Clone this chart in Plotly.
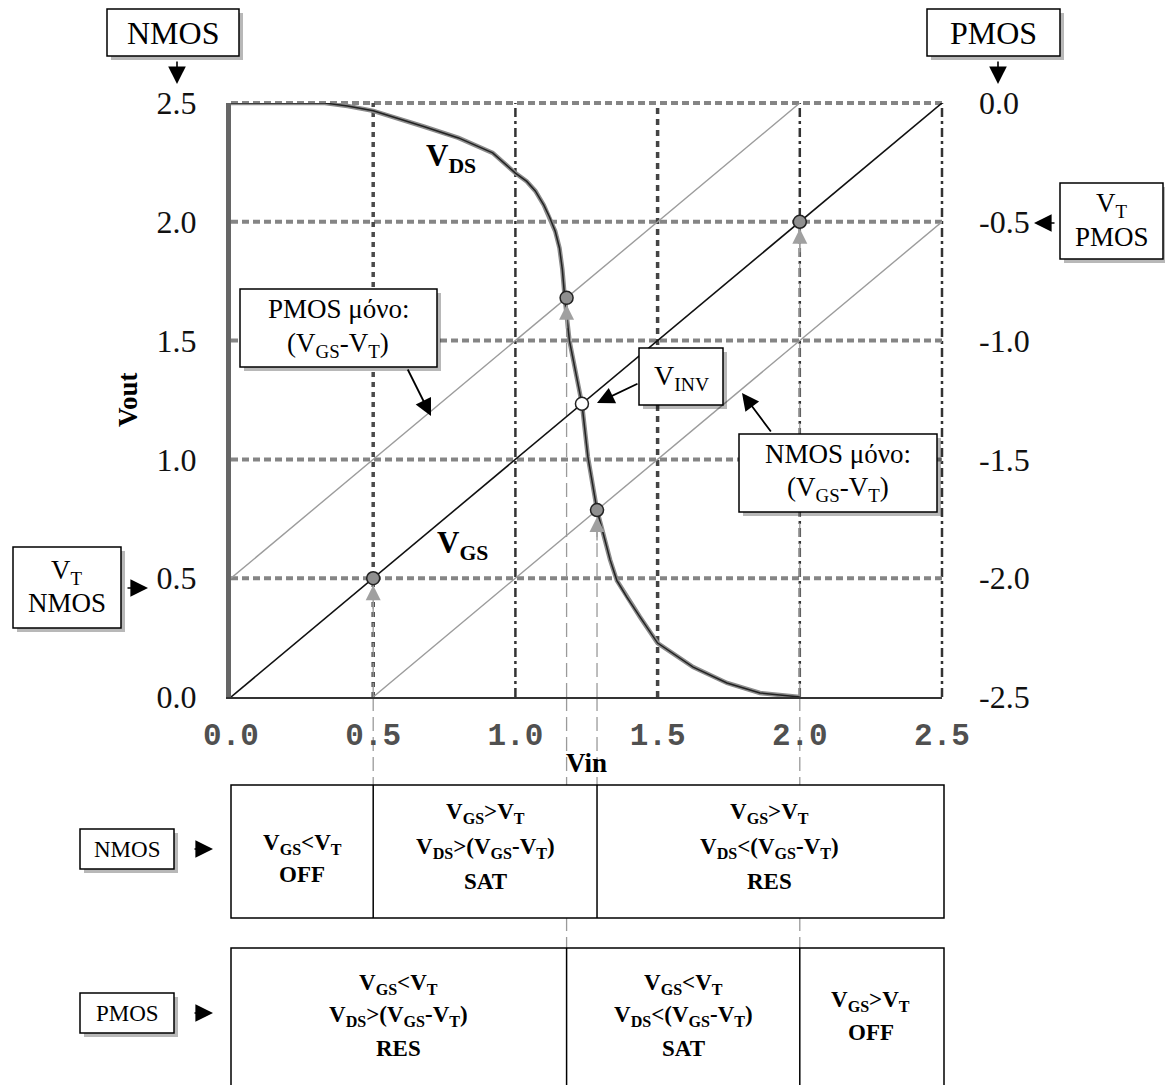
import plotly.graph_objects as go

W, H = 1165, 1085

# ---------------- data ----------------
vin_curve = [0.0, 0.33, 0.41, 0.50, 0.68, 0.80, 0.92, 1.00, 1.04, 1.07, 1.10, 1.12, 1.14, 1.155,
             1.165, 1.174, 1.19, 1.234, 1.255, 1.287, 1.315, 1.333, 1.357, 1.392, 1.438, 1.50,
             1.625, 1.744, 1.86, 2.0]
vout_curve = [2.5, 2.5, 2.487, 2.467, 2.40, 2.353, 2.29, 2.205, 2.17, 2.13, 2.07, 2.02, 1.96,
              1.89, 1.80, 1.674, 1.50, 1.234, 1.01, 0.787, 0.66, 0.577, 0.49, 0.42, 0.337,
              0.227, 0.126, 0.059, 0.017, 0.0]

vgs_x = [0.0, 2.5]
vgs_y = [0.0, 2.5]
pmos_only_x = [0.0, 2.0]
pmos_only_y = [0.5, 2.5]
nmos_only_x = [0.5, 2.5]
nmos_only_y = [0.0, 2.0]

transition_x = [0.5, 1.18, 1.287, 2.0]
transition_y = [0.5, 1.68, 0.787, 2.0]
vinv_x = [1.234]
vinv_y = [1.234]

grid_vals = [0.5, 1.0, 1.5, 2.0]
tick_vals = [0.0, 0.5, 1.0, 1.5, 2.0, 2.5]
tick_text = ["0.0", "0.5", "1.0", "1.5", "2.0", "2.5"]
pmos_tick_vals = [-2.5, -2.0, -1.5, -1.0, -0.5, 0.0]
pmos_tick_text = ["-2.5", "-2.0", "-1.5", "-1.0", "-0.5", "0.0"]

nmos_bounds = [0.0, 0.5, 1.287, 2.5]
pmos_bounds = [0.0, 1.18, 2.0, 2.5]
nmos_regions = [
    ["V<sub>GS</sub>&lt;V<sub>T</sub>", "OFF"],
    ["V<sub>GS</sub>&gt;V<sub>T</sub>", "V<sub>DS</sub>&gt;(V<sub>GS</sub>-V<sub>T</sub>)", "SAT"],
    ["V<sub>GS</sub>&gt;V<sub>T</sub>", "V<sub>DS</sub>&lt;(V<sub>GS</sub>-V<sub>T</sub>)", "RES"],
]
pmos_regions = [
    ["V<sub>GS</sub>&lt;V<sub>T</sub>", "V<sub>DS</sub>&gt;(V<sub>GS</sub>-V<sub>T</sub>)", "RES"],
    ["V<sub>GS</sub>&lt;V<sub>T</sub>", "V<sub>DS</sub>&lt;(V<sub>GS</sub>-V<sub>T</sub>)", "SAT"],
    ["V<sub>GS</sub>&gt;V<sub>T</sub>", "OFF"],
]

# ---------------- layout geometry (pixels) ----------------
PLOT_L, PLOT_R, PLOT_T, PLOT_B = 231, 942, 103, 697
X_DOM = [PLOT_L / W, PLOT_R / W]
Y_DOM = [1 - PLOT_B / H, 1 - PLOT_T / H]
SERIF = "Liberation Serif"
MONO = "Liberation Mono"


def PX(x):
    return x / W


def PY(y):
    return 1 - y / H


shapes = []
annotations = []


def box(x0, y0, x1, y1, shadow=True, lw=1.5):
    if shadow:
        shapes.append(dict(type="rect", xref="paper", yref="paper",
                           x0=PX(x0 + 4), x1=PX(x1 + 4), y0=PY(y0 + 4), y1=PY(y1 + 4),
                           fillcolor="rgba(0,0,0,0.28)", line=dict(width=0), layer="above"))
    shapes.append(dict(type="rect", xref="paper", yref="paper",
                       x0=PX(x0), x1=PX(x1), y0=PY(y0), y1=PY(y1),
                       fillcolor="white", line=dict(color="black", width=lw), layer="above"))


def text(x, y, s, size, bold=False, xref="paper", family=SERIF, color="#000", angle=0):
    if bold:
        s = "<b>" + s + "</b>"
    annotations.append(dict(x=x if xref != "paper" else PX(x), y=PY(y), xref=xref, yref="paper",
                            text=s, showarrow=False, xanchor="center", yanchor="middle",
                            textangle=angle, font=dict(family=family, size=size, color=color)))


def arrow(tipx, tipy, tailx, taily, size=2.2, width=1.6):
    annotations.append(dict(x=PX(tipx), y=PY(tipy), xref="paper", yref="paper",
                            ax=tailx - tipx, ay=taily - tipy, axref="pixel", ayref="pixel",
                            text="", showarrow=True, arrowhead=2, arrowsize=size,
                            arrowwidth=width, arrowcolor="black"))


# ---------------- grid (drawn through the axes) ----------------
for v in grid_vals:
    shapes.append(dict(type="line", xref="x", yref="y", x0=0, x1=2.5, y0=v, y1=v,
                       line=dict(color="#858585", width=4, dash="7px,4px"), layer="below"))
shapes.append(dict(type="line", xref="x", yref="paper", x0=0, x1=2.5, y0=Y_DOM[1], y1=Y_DOM[1],
                   line=dict(color="#858585", width=4, dash="7px,4px"), layer="below"))
vgrid_styles = [
    dict(color="#4a4a4a", width=3.5, dash="5px,5px"),
    dict(color="#333333", width=2.5, dash="9px,4px,3px,4px"),
    dict(color="#444444", width=3.5, dash="6px,5px"),
    dict(color="#333333", width=2.5, dash="9px,4px,3px,4px"),
]
for v, st in zip(grid_vals, vgrid_styles):
    shapes.append(dict(type="line", xref="x", yref="y", x0=v, x1=v, y0=0, y1=2.5,
                       line=st, layer="below"))
shapes.append(dict(type="line", xref="paper", yref="y", x0=X_DOM[1], x1=X_DOM[1], y0=0, y1=2.5,
                   line=dict(color="#333333", width=2.5, dash="9px,4px,3px,4px"), layer="below"))

guide_bottom_px = [785, 948, 785, 948]
guide_style = dict(color="#9a9a9a", width=1.3, dash="14px,6px")
for gx, gy, gb in zip(transition_x, transition_y, guide_bottom_px):
    shapes.append(dict(type="line", xref="x", yref="y", x0=gx, x1=gx, y0=0, y1=gy,
                       line=guide_style, layer="below"))
    shapes.append(dict(type="line", xref="x", yref="paper", x0=gx, x1=gx, y0=Y_DOM[0], y1=PY(gb),
                       line=guide_style, layer="below"))

# ---------------- region tables ----------------
NM_T, NM_B = 785, 918
PM_T, PM_B = 948, 1092
box(PLOT_L, NM_T, PLOT_R + 2, NM_B, shadow=False)
box(PLOT_L, PM_T, PLOT_R + 2, PM_B, shadow=False)
for b in nmos_bounds[1:-1]:
    shapes.append(dict(type="line", xref="x", yref="paper", x0=b, x1=b, y0=PY(NM_T), y1=PY(NM_B),
                       line=dict(color="black", width=1.5), layer="above"))
for b in pmos_bounds[1:-1]:
    shapes.append(dict(type="line", xref="x", yref="paper", x0=b, x1=b, y0=PY(PM_T), y1=PY(PM_B),
                       line=dict(color="black", width=1.5), layer="above"))

TABLE_FS = 23
line_y3_n = [813, 848, 881]
line_y2_n = [844, 874]
line_y3_p = [984, 1016, 1048]
line_y2_p = [1001, 1032]
for i, lines in enumerate(nmos_regions):
    cx = (nmos_bounds[i] + nmos_bounds[i + 1]) / 2
    ys = line_y3_n if len(lines) == 3 else line_y2_n
    for s, yy in zip(lines, ys):
        text(cx, yy, s, TABLE_FS, bold=True, xref="x")
for i, lines in enumerate(pmos_regions):
    cx = (pmos_bounds[i] + pmos_bounds[i + 1]) / 2
    ys = line_y3_p if len(lines) == 3 else line_y2_p
    for s, yy in zip(lines, ys):
        text(cx, yy, s, TABLE_FS, bold=True, xref="x")

box(80, 829, 174, 869)
text(127, 849, "NMOS", 23)
arrow(213, 849, 193, 849)
box(80, 993, 174, 1033)
text(127, 1013, "PMOS", 23)
arrow(213, 1013, 193, 1013)

# ---------------- top / side labels ----------------
box(107, 9, 239, 56)
text(173, 33, "NMOS", 32)
arrow(177, 84, 177, 60)
box(927, 9, 1060, 56)
text(993, 33, "PMOS", 32)
arrow(998, 84, 998, 60)

box(1060, 183, 1163, 259)
text(1112, 205, "V<sub>T</sub>", 27)
text(1112, 237, "PMOS", 27)
arrow(1034, 223, 1056, 223)

box(13, 547, 121, 628)
text(67, 572, "V<sub>T</sub>", 27)
text(67, 603, "NMOS", 27)
arrow(148, 588, 126, 588)

# annotation boxes in the plot
box(240, 289, 437, 367)
text(338, 309, "PMOS μόνο:", 27)
text(338, 345, "(V<sub>GS</sub>-V<sub>T</sub>)", 27)
arrow(431, 416, 407, 368, size=1.9, width=1.8)

box(639, 348, 723, 405)
text(681, 377, "V<sub>INV</sub>", 28)
arrow(597, 403, 639, 383, size=1.9, width=1.8)

box(739, 434, 937, 512)
text(838, 454, "NMOS μόνο:", 27)
text(838, 489, "(V<sub>GS</sub>-V<sub>T</sub>)", 27)
arrow(742, 393, 772, 433, size=1.9, width=1.8)

# curve labels and axis titles
text(451, 158, "V<sub>DS</sub>", 31, bold=True)
text(462, 545, "V<sub>GS</sub>", 31, bold=True)
text(586, 763, "Vin", 27, bold=True)
text(128, 400, "Vout", 27, bold=True, angle=-90)

# gray arrows pointing at transition points
for gx, gy in zip(transition_x, transition_y):
    annotations.append(dict(x=gx, y=gy, xref="x", yref="y", ax=0, ay=32, text="",
                            showarrow=True, arrowhead=2, arrowsize=2.0, arrowwidth=1.5,
                            arrowcolor="#a0a0a0", standoff=7))

# ---------------- traces ----------------
fig = go.Figure()
fig.add_trace(go.Scatter(x=pmos_only_x, y=pmos_only_y, mode="lines",
                         line=dict(color="#9c9c9c", width=1.4), hoverinfo="skip"))
fig.add_trace(go.Scatter(x=nmos_only_x, y=nmos_only_y, mode="lines",
                         line=dict(color="#9c9c9c", width=1.4), hoverinfo="skip"))
fig.add_trace(go.Scatter(x=vgs_x, y=vgs_y, mode="lines",
                         line=dict(color="#111111", width=1.6), hoverinfo="skip"))
fig.add_trace(go.Scatter(x=vin_curve, y=vout_curve, mode="lines",
                         line=dict(color="#8c8c8c", width=4.5), hoverinfo="skip"))
fig.add_trace(go.Scatter(x=vin_curve, y=vout_curve, mode="lines",
                         line=dict(color="#222222", width=1.5), hoverinfo="skip"))
fig.add_trace(go.Scatter(x=transition_x, y=transition_y, mode="markers",
                         marker=dict(size=13, color="#8f8f8f", line=dict(color="#222", width=1.5)),
                         hoverinfo="skip"))
fig.add_trace(go.Scatter(x=vinv_x, y=vinv_y, mode="markers",
                         marker=dict(size=13, color="white", line=dict(color="#222", width=1.5)),
                         hoverinfo="skip"))
# invisible trace to activate the PMOS axis
fig.add_trace(go.Scatter(x=[0], y=[-2.5], yaxis="y2", mode="markers",
                         marker=dict(opacity=0), hoverinfo="skip"))

fig.update_layout(
    width=W, height=H,
    margin=dict(l=0, r=0, t=0, b=0, pad=0, autoexpand=False),
    paper_bgcolor="white", plot_bgcolor="white",
    showlegend=False,
    xaxis=dict(domain=X_DOM, range=[0, 2.5], tickvals=tick_vals,
               ticktext=["<b>" + t + "</b>" for t in tick_text], automargin=False,
               showgrid=False, zeroline=False, showline=True, linecolor="#333", linewidth=2,
               ticks="", ticklabelstandoff=9,
               tickfont=dict(family=MONO, size=31, color="#505050")),
    yaxis=dict(domain=Y_DOM, range=[0, 2.5], tickvals=tick_vals, ticktext=tick_text,
               automargin=False,
               showgrid=False, zeroline=False, showline=True, linecolor="#666", linewidth=5,
               ticks="", ticklabelstandoff=23,
               tickfont=dict(family=SERIF, size=32, color="#111")),
    yaxis2=dict(overlaying="y", side="right", range=[-2.5, 0], tickvals=pmos_tick_vals,
                ticktext=pmos_tick_text, showgrid=False, zeroline=False, showline=False,
                automargin=False,
                ticks="", ticklabelstandoff=36,
                tickfont=dict(family=SERIF, size=32, color="#111")),
    shapes=shapes,
    annotations=annotations,
)

fig.write_html("out.html", config={"displayModeBar": False},
               post_script="document.body.style.margin='0px';")
